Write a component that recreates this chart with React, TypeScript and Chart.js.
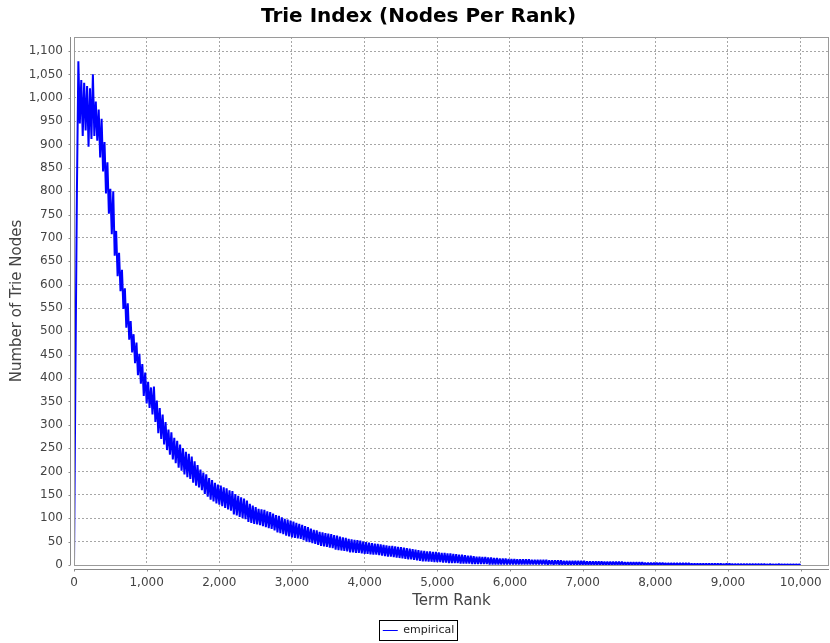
import React, { useEffect, useRef } from "react";
import { Chart, registerables } from "chart.js";

Chart.register(...registerables);

const TITLE = "Trie Index (Nodes Per Rank)";
const X_TITLE = "Term Rank";
const Y_TITLE = "Number of Trie Nodes";
const SERIES_LABEL = "empirical";

// term rank of the first value and spacing between sampled ranks
const RANK_START = 0;
const RANK_STEP = 20;

// number of trie nodes (noisy band: alternating highs/lows)
const NODES = [
  0, 420, 800, 1078, 945, 1038, 918, 1032, 930, 1025,
  895, 1020, 912, 1050, 918, 992, 908, 975, 872, 955,
  842, 905, 795, 862, 752, 805, 708, 800, 662, 715,
  618, 668, 586, 632, 548, 592, 508, 560, 482, 522,
  455, 494, 432, 476, 406, 452, 388, 430, 362, 412,
  346, 392, 336, 380, 322, 382, 306, 352, 282, 336,
  270, 322, 258, 306, 246, 290, 236, 284, 226, 272,
  218, 266, 208, 258, 202, 250, 194, 242, 188, 238,
  184, 232, 176, 222, 170, 214, 166, 204, 160, 198,
  152, 194, 146, 186, 140, 182, 136, 176, 132, 172,
  129, 170, 126, 166, 122, 164, 119, 160, 116, 158,
  108, 152, 106, 148, 103, 145, 100, 142, 98, 138,
  92, 131, 90, 127, 88, 124, 87, 120, 85, 119,
  83, 118, 81, 115, 79, 113, 77, 110, 74, 107,
  70, 105, 68, 102, 66, 99, 63, 97, 61, 95,
  59, 93, 58, 90, 57, 88, 56, 86, 53, 83,
  50, 81, 49, 78, 47, 75, 45, 74, 43, 71,
  41, 70, 40, 68, 39, 67, 37, 66, 36, 64,
  33, 63, 32, 61, 31, 59, 30, 58, 29, 56,
  27, 55, 27, 54, 26, 53, 26, 52, 25, 50,
  24, 49, 24, 48, 23, 47, 22, 46, 22, 45,
  21, 44, 20, 43, 19, 42, 18, 41, 18, 41,
  17, 40, 16, 39, 15, 38, 14, 37, 13, 36,
  12, 35, 12, 34, 11, 33, 10, 32, 9, 31,
  8, 30, 8, 29, 7, 29, 7, 28, 6, 28,
  6, 27, 6, 26, 5, 26, 5, 25, 4, 25,
  4, 24, 4, 23, 4, 22, 3, 22, 3, 21,
  3, 20, 3, 20, 2, 19, 2, 18, 2, 18,
  2, 17, 2, 17, 2, 16, 1, 16, 1, 15,
  1, 15, 1, 14, 1, 14, 1, 14, 1, 13,
  1, 13, 1, 13, 1, 12, 1, 12, 1, 12,
  1, 12, 1, 12, 1, 11, 1, 11, 1, 11,
  1, 11, 1, 11, 1, 11, 0, 10, 1, 10,
  0, 10, 1, 10, 0, 10, 0, 9, 1, 9,
  0, 9, 0, 9, 1, 9, 0, 9, 0, 9,
  0, 9, 0, 8, 0, 8, 0, 8, 0, 8,
  0, 8, 0, 8, 0, 7, 0, 7, 0, 7,
  0, 7, 0, 7, 0, 7, 0, 7, 0, 6,
  0, 6, 0, 6, 0, 6, 0, 6, 0, 6,
  0, 6, 0, 5, 0, 5, 0, 5, 0, 5,
  0, 5, 0, 5, 0, 5, 0, 4, 0, 4,
  0, 4, 0, 4, 0, 4, 0, 4, 0, 4,
  0, 4, 0, 4, 0, 3, 0, 3, 0, 3,
  0, 3, 0, 3, 0, 3, 0, 3, 0, 3,
  0, 3, 0, 3, 0, 3, 0, 2, 0, 3,
  0, 3, 0, 2, 0, 2, 0, 2, 0, 2,
  0, 2, 0, 2, 0, 2, 0, 2, 0, 2,
  0, 2, 0, 2, 0, 2, 0, 1, 0, 2,
  0, 1, 0, 1, 0, 2, 0, 1, 0, 1,
  0, 1, 0, 1, 0, 1, 0, 1, 0, 1,
  0,
];

const X_MIN = 0;
const X_MAX = 10390;
const X_TICKS = [0, 1000, 2000, 3000, 4000, 5000, 6000, 7000, 8000, 9000, 10000];
const Y_MIN = 0;
const Y_MAX = 1130;
const Y_TICKS = [
  0, 50, 100, 150, 200, 250, 300, 350, 400, 450, 500, 550,
  600, 650, 700, 750, 800, 850, 900, 950, 1000, 1050, 1100,
];

const FONT = "'DejaVu Sans', Verdana, sans-serif";
const GRID = "#a6a6a6";
const AXIS = "#8a8a8a";
const TEXT = "#444444";

const framePlugin = {
  id: "jfreeFrame",
  afterDraw(chart: any) {
    const { ctx, chartArea } = chart;
    const { left, right, top, bottom } = chartArea;
    ctx.save();
    ctx.lineWidth = 1;
    // plot outline
    ctx.strokeStyle = "#9a9a9a";
    ctx.strokeRect(Math.round(left) + 0.5, Math.round(top) + 0.5, Math.round(right - left) - 1, Math.round(bottom - top));
    // offset axis lines
    ctx.strokeStyle = AXIS;
    const ax = Math.round(left) - 4 + 0.5;
    const ay = Math.round(bottom) + 4 + 0.5;
    ctx.beginPath();
    ctx.moveTo(ax, top);
    ctx.lineTo(ax, bottom);
    ctx.moveTo(left, ay);
    ctx.lineTo(right, ay);
    const xs = chart.scales.x;
    xs.ticks.forEach((t: any) => {
      const px = Math.round(xs.getPixelForValue(t.value)) + 0.5;
      ctx.moveTo(px, ay);
      ctx.lineTo(px, ay + 2);
    });
    const ys = chart.scales.y;
    ys.ticks.forEach((t: any) => {
      const py = Math.round(ys.getPixelForValue(t.value)) + 0.5;
      ctx.moveTo(ax, py);
      ctx.lineTo(ax - 2, py);
    });
    ctx.stroke();
    // legend frame
    const lg = chart.legend;
    if (lg && lg.legendHitBoxes && lg.legendHitBoxes.length) {
      const hb = lg.legendHitBoxes[0];
      ctx.strokeStyle = "#000000";
      ctx.strokeRect(Math.round(hb.left) - 4 + 0.5, Math.round(hb.top) - 5 + 0.5, Math.round(hb.width) + 7, Math.round(hb.height) + 9);
    }
    ctx.restore();
  },
};

export default function App() {
  const ref = useRef<HTMLCanvasElement | null>(null);
  useEffect(() => {
    document.body.style.margin = "0";
    const canvas = ref.current;
    if (!canvas) return;
    const points = NODES.map((v, i) => ({ x: RANK_START + i * RANK_STEP, y: v }));
    const chart = new Chart(canvas, {
      type: "line",
      data: {
        datasets: [
          {
            label: SERIES_LABEL,
            data: points,
            borderColor: "#0000ff",
            backgroundColor: "#0000ff",
            borderWidth: 2,
            borderJoinStyle: "bevel",
            pointRadius: 0,
            pointStyle: "line",
            tension: 0,
            fill: false,
          },
        ],
      },
      options: {
        animation: false,
        responsive: false,
        maintainAspectRatio: false,
        layout: { padding: { left: 8, right: 1, top: 0, bottom: -3 } },
        plugins: {
          title: {
            display: true,
            text: TITLE,
            color: "#000000",
            font: { family: FONT, size: 20, weight: "bold" },
            padding: { top: 5, bottom: 8 },
          },
          legend: {
            display: true,
            position: "bottom",
            labels: {
              usePointStyle: true,
              pointStyle: "line",
              pointStyleWidth: 15,
              boxHeight: 11,
              padding: 6,
              color: "#222222",
              font: { family: FONT, size: 11 },
              generateLabels: (c: any) =>
                Chart.defaults.plugins.legend.labels
                  .generateLabels(c)
                  .map((l: any) => ({ ...l, lineWidth: 1 })),
            },
          },
          tooltip: { enabled: false },
        },
        scales: {
          x: {
            type: "linear",
            min: X_MIN,
            max: X_MAX,
            afterBuildTicks: (s: any) => {
              s.ticks = X_TICKS.map((v) => ({ value: v }));
            },
            afterFit: (s: any) => {
              s.height = 54;
              s.paddingRight = 0;
              s.paddingLeft = 0;
            },
            grid: { color: GRID, lineWidth: 1, drawTicks: false },
            border: { display: false, dash: [2, 2] },
            ticks: {
              autoSkip: false,
              maxRotation: 0,
              padding: 11,
              color: TEXT,
              font: { family: FONT, size: 12 },
              callback: (v: any) => Number(v).toLocaleString("en-US"),
            },
            title: {
              display: true,
              text: X_TITLE,
              color: TEXT,
              font: { family: FONT, size: 15 },
              padding: { top: 0, bottom: 9 },
            },
          },
          y: {
            type: "linear",
            min: Y_MIN,
            max: Y_MAX,
            afterBuildTicks: (s: any) => {
              s.ticks = Y_TICKS.map((v) => ({ value: v }));
            },
            afterFit: (s: any) => {
              s.width = 66;
            },
            grid: { color: GRID, lineWidth: 1, drawTicks: false },
            border: { display: false, dash: [2, 2] },
            ticks: {
              autoSkip: false,
              padding: 11,
              color: TEXT,
              font: { family: FONT, size: 12 },
              callback: (v: any) => Number(v).toLocaleString("en-US"),
            },
            title: {
              display: true,
              text: Y_TITLE,
              color: TEXT,
              font: { family: FONT, size: 15 },
              padding: { top: 0, bottom: 0 },
            },
          },
        },
      },
      plugins: [framePlugin],
    });
    return () => chart.destroy();
  }, []);
  return (
    <div style={{ position: "fixed", left: 0, top: 0, width: 830, height: 643, background: "#ffffff" }}>
      <canvas ref={ref} width={830} height={643} style={{ display: "block" }} />
    </div>
  );
}
